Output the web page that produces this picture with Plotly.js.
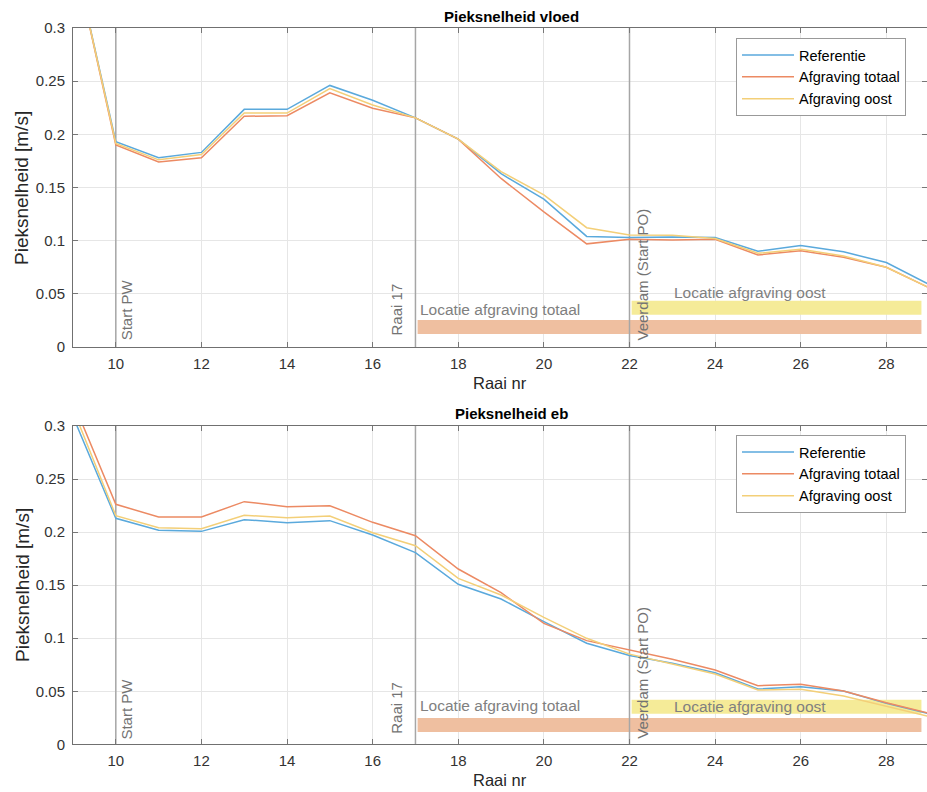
<!DOCTYPE html>
<html><head><meta charset="utf-8">
<script src="https://cdn.plot.ly/plotly-3.0.1.min.js"></script>
<style>body{margin:0;background:#fff}#chart{width:927px;height:792px}</style>
</head><body><div id="chart"></div>
<script>
// Raai numbers
const raai = [9,10,11,12,13,14,15,16,17,18,19,20,21,22,23,24,25,26,27,28,29];
// Pieksnelheid vloed [m/s]
const vloedReferentie = [0.372,0.193,0.178,0.183,0.2235,0.2235,0.246,0.232,0.2155,0.1955,0.163,0.139,0.104,0.103,0.1035,0.103,0.090,0.0955,0.0895,0.0795,0.0588];
const vloedTotaal     = [0.372,0.190,0.174,0.178,0.217,0.2175,0.239,0.2245,0.2155,0.1955,0.1585,0.127,0.097,0.1013,0.1006,0.1013,0.0865,0.0906,0.0843,0.075,0.0557];
const vloedOost       = [0.372,0.1915,0.176,0.181,0.220,0.220,0.243,0.2276,0.2155,0.1955,0.165,0.143,0.1122,0.1053,0.105,0.102,0.0881,0.0919,0.0856,0.075,0.0557];
// Pieksnelheid eb [m/s]
const ebReferentie = [0.309,0.213,0.2017,0.2007,0.2117,0.2089,0.2108,0.1973,0.1806,0.1508,0.1369,0.1156,0.0952,0.0837,0.0763,0.0675,0.0521,0.0543,0.0502,0.0386,0.0287];
const ebTotaal     = [0.323,0.2262,0.2142,0.2142,0.2287,0.224,0.2249,0.2092,0.1966,0.1652,0.1429,0.114,0.0977,0.0887,0.0801,0.070,0.0553,0.0566,0.0502,0.0392,0.0293];
const ebOost       = [0.316,0.2155,0.2042,0.2032,0.2158,0.2136,0.2152,0.1994,0.1872,0.1564,0.1407,0.1197,0.0999,0.085,0.0757,0.0663,0.0512,0.0518,0.0455,0.0355,0.0262];
const seriesNames = ['Referentie','Afgraving totaal','Afgraving oost'];
// Markers: vertical reference raaien
const markerRaai = [10,17,22];
const markerLabels = ['Start PW','Raai 17','Veerdam (Start PO)'];
// Zones (raai ranges)
const zoneTotaal = [17.05,28.82];
const zoneOost = [22.05,28.82];
const zoneTotaalLabel = 'Locatie afgraving totaal';
const zoneOostLabel = 'Locatie afgraving oost';
const zoneLevelsVloed = [0.0188,0.0368];
const zoneLevelsEb = [0.0182,0.0355];
const xTickVals = [10,12,14,16,18,20,22,24,26,28];
const yTickVals = [0,0.05,0.1,0.15,0.2,0.25,0.3];
const yTickText = ['0','0.05','0.1','0.15','0.2','0.25','0.3'];

const colors = ['#5aa9dc','#ec8a63','#f3cf78'];
const font = 'Liberation Sans, Arial, sans-serif';
const traces = [];
function addPanel(xa, ya, vals, zl, leg){
  traces.push({x:zoneTotaal, y:[zl[0],zl[0]], xaxis:xa, yaxis:ya, mode:'lines', line:{color:'#efbfa0', width:14}, showlegend:false, hoverinfo:'skip'});
  traces.push({x:zoneOost, y:[zl[1],zl[1]], xaxis:xa, yaxis:ya, mode:'lines', line:{color:'#f5eb98', width:14}, showlegend:false, hoverinfo:'skip'});
  markerRaai.forEach(r=>{
    traces.push({x:[r,r], y:[0,0.3], xaxis:xa, yaxis:ya, mode:'lines', line:{color:'#a6a6a6', width:1.5}, showlegend:false, hoverinfo:'skip'});
  });
  vals.forEach((v,i)=>{
    traces.push({x:raai, y:v, xaxis:xa, yaxis:ya, mode:'lines', name:seriesNames[i], line:{color:colors[i], width:1.5}, showlegend:true, legend:leg});
  });
}
addPanel('x','y',[vloedReferentie,vloedTotaal,vloedOost],zoneLevelsVloed,'legend');
addPanel('x2','y2',[ebReferentie,ebTotaal,ebOost],zoneLevelsEb,'legend2');

function xaxis(anchor){
  return {anchor:anchor, domain:[0,1], range:[9,28.95], tickvals:xTickVals, ticks:'inside', ticklen:5, tickcolor:'#777',
    showline:true, linecolor:'#707070', linewidth:1, mirror:'ticks', showgrid:true, gridcolor:'#e6e6e6', gridwidth:1,
    zeroline:false, tickfont:{family:font, size:15, color:'#333'}, ticklabelstandoff:3, automargin:false};
}
function yaxis(anchor, dom){
  return {anchor:anchor, domain:dom, range:[0,0.3], tickvals:yTickVals, ticktext:yTickText, ticks:'inside', ticklen:5, tickcolor:'#777',
    showline:true, linecolor:'#707070', linewidth:1, mirror:'ticks', showgrid:true, gridcolor:'#e6e6e6', gridwidth:1,
    zeroline:false, tickfont:{family:font, size:15, color:'#333'}, ticklabelstandoff:4, automargin:false};
}
const H = 792, W = 927, L = 73, PW = W - L;
const px = v => (v - L) / PW;
const ann = [];
function panelAnn(xr, yr, title, titleY, xtitleY, ytitleY, shifts){
  ann.push({xref:'paper', yref:'paper', x:px(511), y:1-titleY/H, text:'<b>'+title+'</b>', showarrow:false, xanchor:'center', yanchor:'middle', font:{family:font, size:15, color:'#000'}});
  ann.push({xref:'paper', yref:'paper', x:px(500), y:1-xtitleY/H, text:'Raai nr', showarrow:false, xanchor:'center', yanchor:'middle', font:{family:font, size:16.5, color:'#262626'}});
  ann.push({xref:'paper', yref:'paper', x:px(22), y:1-ytitleY/H, text:'Pieksnelheid [m/s]', textangle:-90, showarrow:false, xanchor:'center', yanchor:'middle', font:{family:font, size:19, color:'#262626'}});
  markerRaai.forEach((r,i)=>{
    ann.push({xref:xr, yref:yr, x:r, y:0, text:markerLabels[i], textangle:-90, showarrow:false, xanchor:'center', yanchor:'bottom', xshift:shifts[i][0], yshift:shifts[i][1], font:{family:font, size:15, color:'#737373'}});
  });
}
panelAnn('x','y','Pieksnelheid vloed',16,383,188,[[11,5],[-19,10],[13,5]]);
panelAnn('x2','y2','Pieksnelheid eb',413,780,585,[[11,3],[-19,9],[13,4]]);
// zone labels
ann.push({xref:'x', yref:'y', x:zoneTotaal[0], y:0.0357, text:zoneTotaalLabel, showarrow:false, xanchor:'left', yanchor:'middle', font:{family:font, size:15.5, color:'#808080'}});
ann.push({xref:'x', yref:'y', x:23, y:0.0517, text:zoneOostLabel, showarrow:false, xanchor:'left', yanchor:'middle', font:{family:font, size:15.5, color:'#808080'}});
ann.push({xref:'x2', yref:'y2', x:zoneTotaal[0], y:0.037, text:zoneTotaalLabel, showarrow:false, xanchor:'left', yanchor:'middle', font:{family:font, size:15.5, color:'#808080'}});
ann.push({xref:'x2', yref:'y2', x:23, y:0.0361, text:zoneOostLabel, showarrow:false, xanchor:'left', yanchor:'middle', font:{family:font, size:15.5, color:'#808080'}});

const legendStyle = (top)=>({x:px(736), y:1-top/H, xanchor:'left', yanchor:'top', bgcolor:'#fff', bordercolor:'#999', borderwidth:1,
  font:{family:font, size:14.5, color:'#000'}, tracegroupgap:0, itemwidth:52});
const layout = {
  width:W, height:H, margin:{l:L, r:0, t:0, b:0}, paper_bgcolor:'#fff', plot_bgcolor:'#fff',
  xaxis:xaxis('y'), yaxis:yaxis('x',[1-347/H, 1-28/H]),
  xaxis2:xaxis('y2'), yaxis2:yaxis('x2',[1-744.3/H, 1-426/H]),
  legend:legendStyle(38), legend2:legendStyle(435),
  annotations:ann, showlegend:true
};
Plotly.newPlot('chart', traces, layout, {staticPlot:true});
</script></body></html>
